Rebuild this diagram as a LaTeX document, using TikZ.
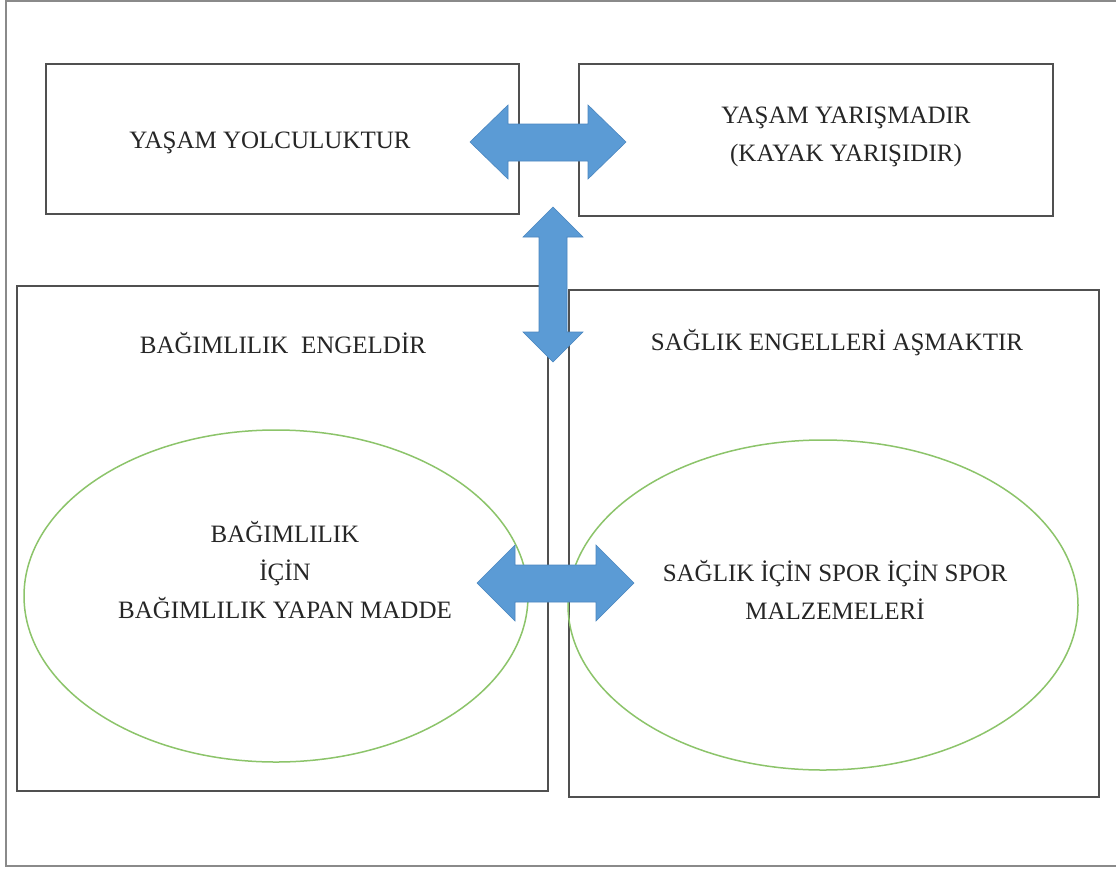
\documentclass[tikz,border=0pt]{standalone}
\usepackage{fontspec}
\setmainfont{Liberation Serif}
\definecolor{boxline}{HTML}{505050}
\definecolor{outerline}{HTML}{8A8A8A}
\definecolor{arrowblue}{HTML}{5B9BD5}
\definecolor{arrowedge}{HTML}{4A86C0}
\definecolor{ellgreen}{HTML}{8CC46A}
\definecolor{txt}{HTML}{262626}
\tikzset{
  panel/.style={draw=boxline, line width=2pt, fill=white},
  oval/.style={draw=ellgreen, line width=1.5pt},
  blockarrow/.style={fill=arrowblue, draw=arrowedge, line width=0.6pt},
  lbl/.style={text=txt, font=\fontsize{25}{38}\selectfont, align=center, inner sep=0pt}
}
\begin{document}
\begin{tikzpicture}[x=1pt,y=-1pt]
\useasboundingbox (0,0) rectangle (1116,868);
\fill[white] (0,0) rectangle (1116,868);
% outer frame
\draw[outerline, line width=1.5pt] (1130,1) -- (6,1) -- (6,866) -- (1130,866);
% top boxes
\node[panel, minimum width=473pt, minimum height=150pt, anchor=north west, inner sep=0pt] (tl) at (45,63) {};
\node[panel, minimum width=474pt, minimum height=152pt, anchor=north west, inner sep=0pt] (tr) at (578,63) {};
% bottom boxes
\node[panel, minimum width=531pt, minimum height=505pt, anchor=north west, inner sep=0pt] (bl) at (16,285) {};
\node[panel, minimum width=530pt, minimum height=507pt, anchor=north west, inner sep=0pt] (br) at (568,289) {};
% ellipses
\draw[oval] (276,596) ellipse [x radius=252, y radius=166];
\draw[oval] (823,605) ellipse [x radius=255, y radius=165];
% texts
\node[lbl] (t1) at (270,143) {YAŞAM YOLCULUKTUR};
\node[lbl] (t2) at (846,137) {YAŞAM YARIŞMADIR\\(KAYAK YARIŞIDIR)};
\node[lbl] (t3) at (283,343) {BAĞIMLILIK\ \ ENGELDİR};
\node[lbl] (t4) at (837,343) {SAĞLIK ENGELLERİ AŞMAKTIR};
\node[lbl] (t5) at (285,570) {BAĞIMLILIK\\İÇİN\\BAĞIMLILIK YAPAN MADDE};
\node[lbl] (t6) at (835,590) {SAĞLIK İÇİN SPOR İÇİN SPOR\\MALZEMELERİ};
% block arrows
% top horizontal: tips at x=470 and 626, centre y=142
\draw[blockarrow] (470,142) -- (508,105) -- (508,124) -- (588,124) -- (588,105) -- (626,142)
  -- (588,179) -- (588,161) -- (508,161) -- (508,179) -- cycle;
% vertical: tips at y=207 and 362, centre x=553
\draw[blockarrow] (553,207) -- (583,237) -- (567,237) -- (567,332) -- (583,332) -- (553,362)
  -- (523,332) -- (539,332) -- (539,237) -- (523,237) -- cycle;
% bottom horizontal: tips at x=477 and 634, centre y=583
\draw[blockarrow] (477,583) -- (515,545) -- (515,565) -- (596,565) -- (596,545) -- (634,583)
  -- (596,621) -- (596,602) -- (515,602) -- (515,621) -- cycle;
\end{tikzpicture}
\end{document}
